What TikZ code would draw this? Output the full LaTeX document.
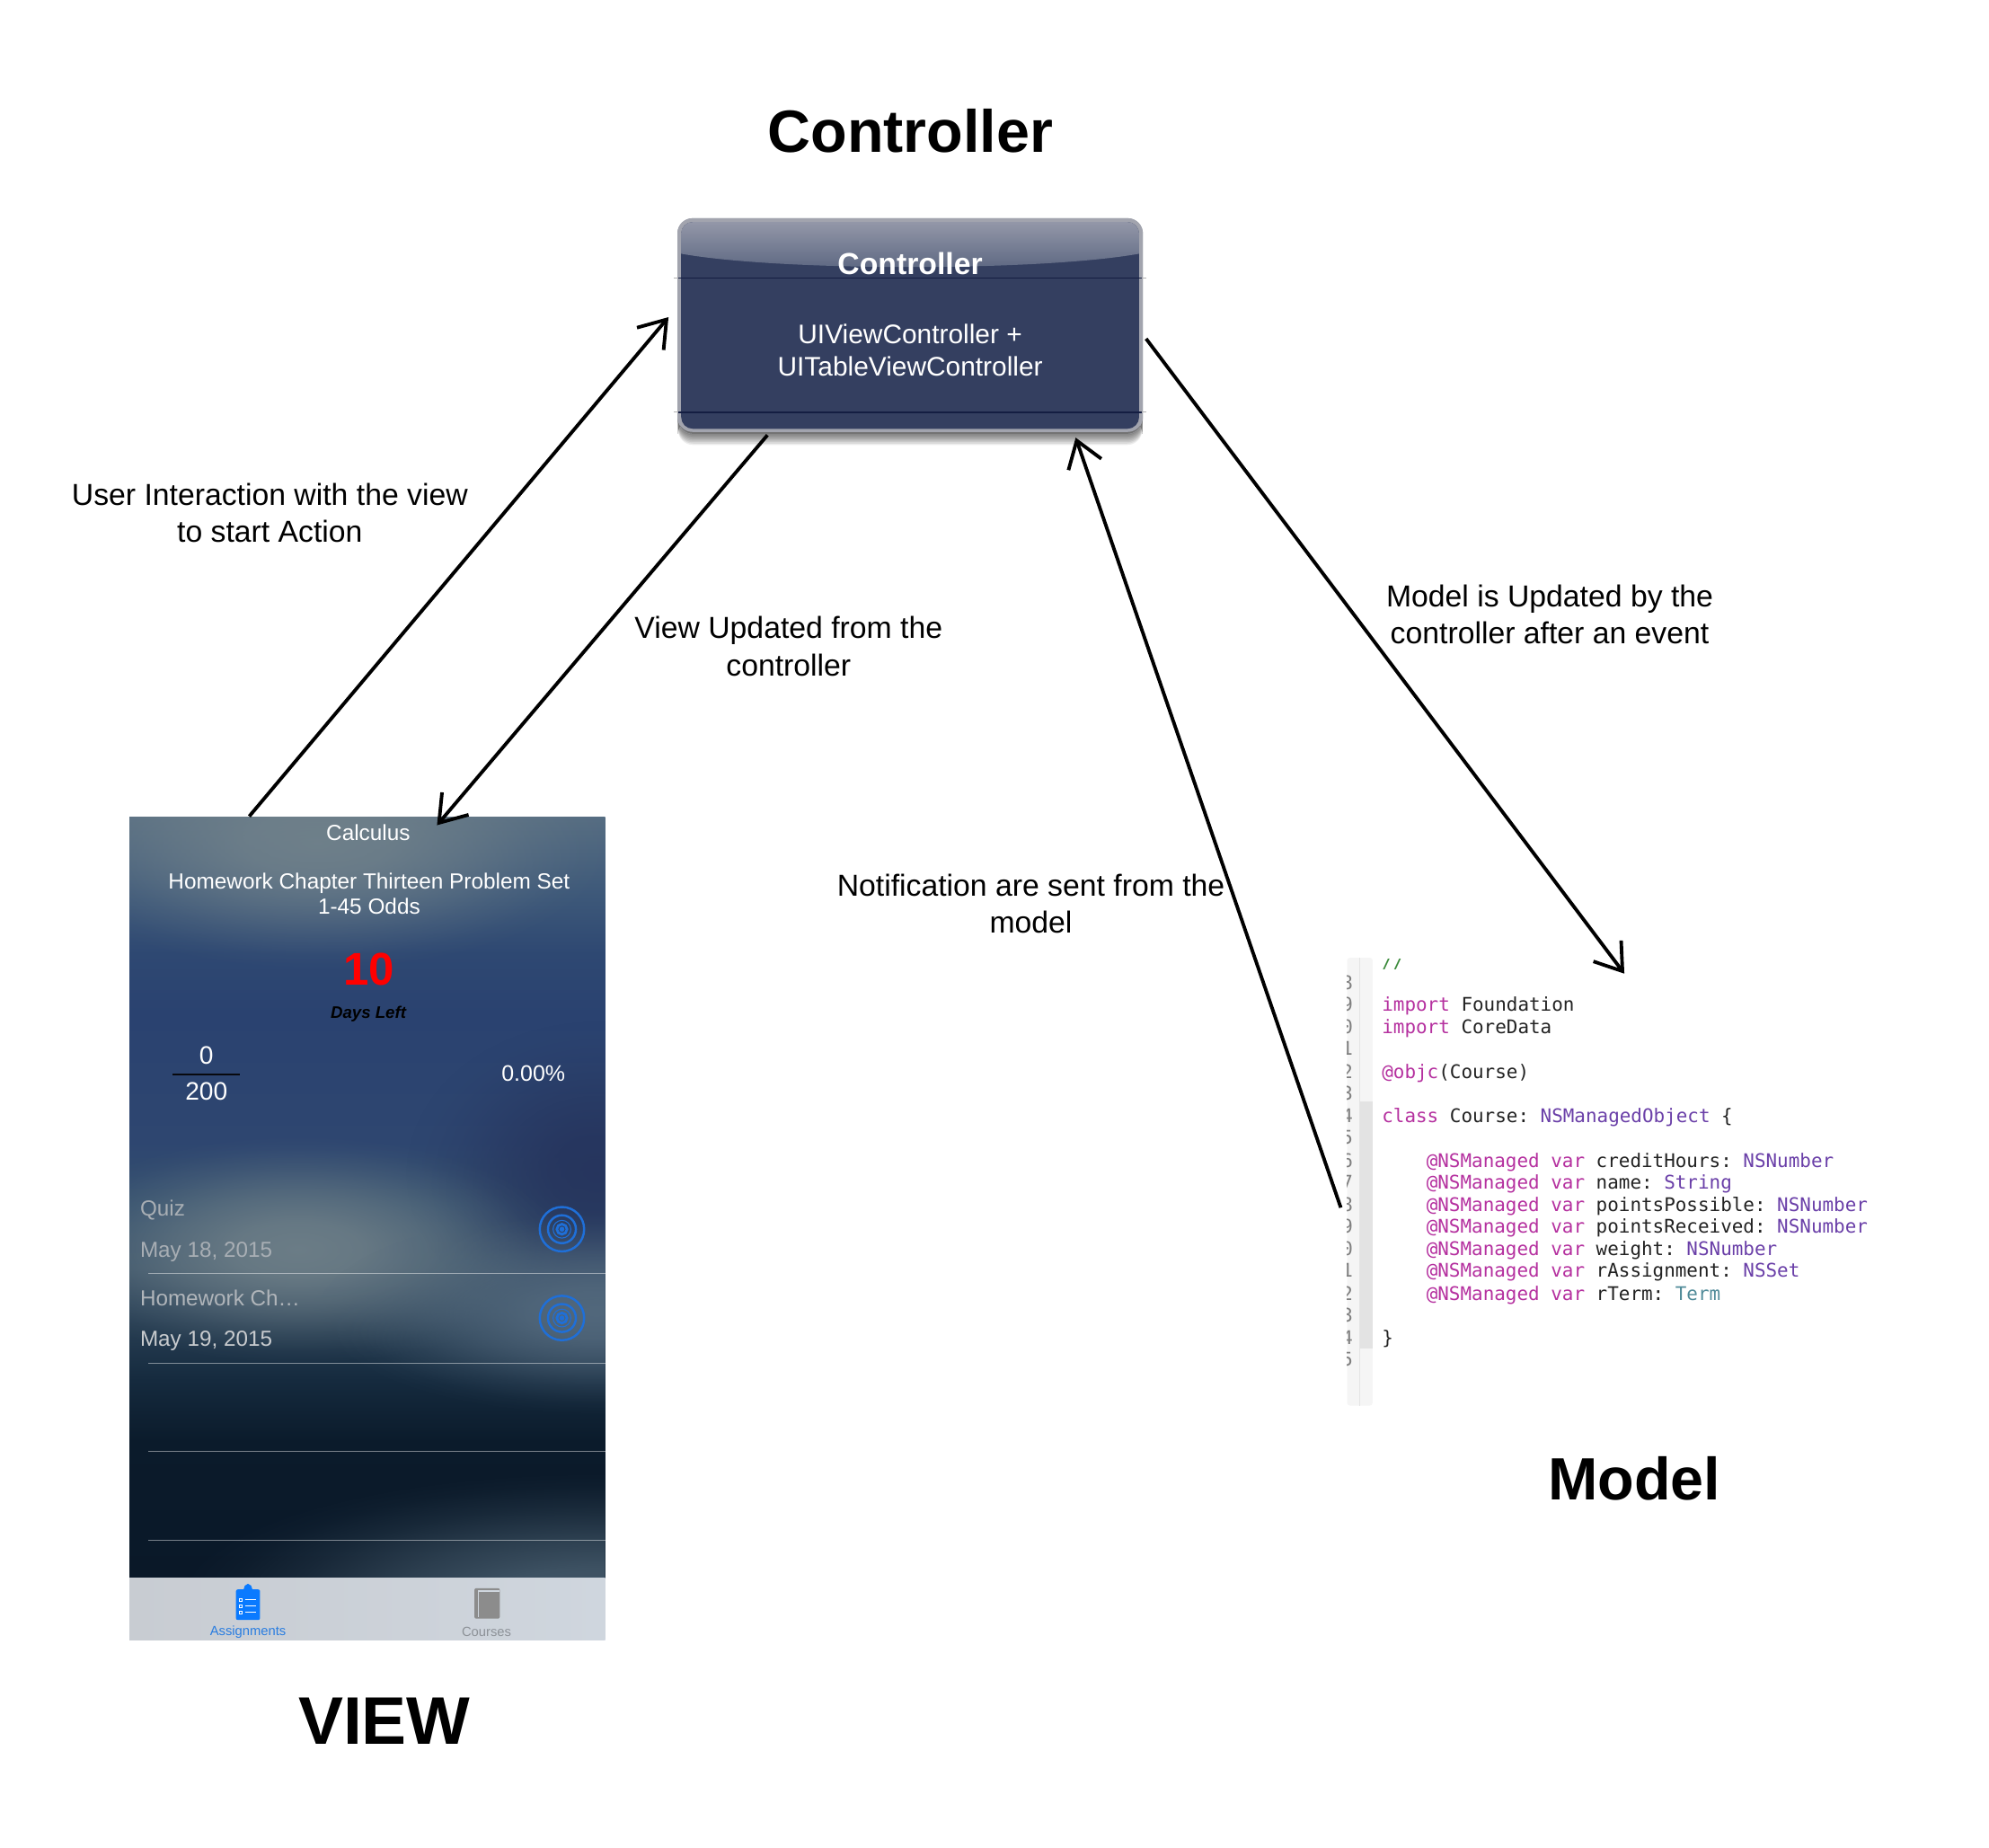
\documentclass[tikz,border=0pt]{standalone}
\usepackage{fontspec}
\setmainfont{Liberation Sans}
\setmonofont{DejaVu Sans Mono}
\usetikzlibrary{arrows.meta,fadings,calc}
\definecolor{navy}{HTML}{343F60}
\definecolor{navyline}{HTML}{141E42}
\definecolor{kw}{HTML}{B5309F}
\definecolor{ty}{HTML}{6A3FA8}
\definecolor{tm}{HTML}{4F8A98}
\definecolor{pl}{HTML}{222222}
\definecolor{cm}{HTML}{3A8A3A}
\definecolor{ringblue}{HTML}{1F6FD8}
\definecolor{tabblue}{HTML}{0A7AFF}
\definecolor{tabgrey}{HTML}{8C8C8C}
\definecolor{tabtext}{HTML}{2A7DE0}
\definecolor{tabgreytext}{HTML}{8D9298}
\definecolor{listA}{HTML}{A8AEB4}
\definecolor{listB}{HTML}{B0B5BA}
\definecolor{listC}{HTML}{C8CBCE}
\definecolor{rimc}{HTML}{A2A4AE}
\definecolor{greyA}{HTML}{74848C}
\definecolor{navyA}{HTML}{25335C}
\definecolor{greyB}{HTML}{6E7F88}
\definecolor{greyC}{HTML}{566C80}
\definecolor{greyD}{HTML}{435869}
\definecolor{greyE}{HTML}{4A5F70}
\definecolor{bgA}{HTML}{0A1828}
\definecolor{bgB}{HTML}{0B1B2B}
\definecolor{bgC}{HTML}{152A3E}
\definecolor{bgD}{HTML}{3A5268}
\definecolor{bgE}{HTML}{34506E}
\definecolor{bgF}{HTML}{2E4670}
\definecolor{bgG}{HTML}{2A4270}
\definecolor{bgH}{HTML}{2E4872}
\definecolor{bgI}{HTML}{3F5A7A}
\definecolor{bgJ}{HTML}{566D82}
\definecolor{glossT}{HTML}{9397A8}
\definecolor{glossB}{HTML}{5A6580}
\definecolor{tabL}{HTML}{C8CCD2}
\definecolor{tabR}{HTML}{CFD6DE}
\pgfdeclareradialshading{softshade}{\pgfpointorigin}{color(0bp)=(white); color(6bp)=(black!10!white); color(12bp)=(black!40!white); color(18bp)=(black!75!white); color(22bp)=(black!93!white); color(25bp)=(black); color(50bp)=(black)}
\pgfdeclarefading{softblob}{\pgfuseshading{softshade}}
\pgfdeclareverticalshading{phonebg}{100bp}{
 color(0bp)=(bgA); color(25bp)=(bgA); color(34bp)=(bgB); color(38bp)=(bgC); color(45.3bp)=(bgD);
 color(49.5bp)=(bgE); color(53.7bp)=(bgF); color(62bp)=(bgG); color(66bp)=(bgH); color(70.3bp)=(bgI); color(75bp)=(bgJ); color(100bp)=(bgJ)}
\pgfdeclareverticalshading{glossy}{100bp}{
 color(0bp)=(glossB); color(25bp)=(glossB); color(75bp)=(glossT); color(100bp)=(glossT)}
\pgfdeclarehorizontalshading{tabbar}{100bp}{
 color(0bp)=(tabL); color(25bp)=(tabL); color(75bp)=(tabR); color(100bp)=(tabR)}
\def\du{0.01412cm}
\newcommand{\softblob}[6]{\fill[#5,fill opacity=#6,path fading=softblob] (#1,#2) ellipse [x radius=#3,y radius=#4];}
\tikzset{
 flow/.style={line width=1.1pt,-{Straight Barb[length=8pt,width=11pt,line width=1.1pt]}},
 notelabel/.style={inner sep=0pt,align=center,font=\fontsize{9.6}{11.7}\selectfont,text=black},
 bigtitle/.style={inner sep=0pt,font=\fontsize{18.9}{22}\selectfont\bfseries,text=black},
 apptext/.style={inner sep=0pt,align=center,text=white,font=\fontsize{6.93}{8.1}\selectfont},
 listtext/.style={inner sep=0pt,anchor=west,font=\fontsize{6.9}{8}\selectfont},
 codeline/.style={inner sep=0pt,anchor=base west,font=\fontsize{5.95}{7}\selectfont\ttfamily,text=pl},
 gutternum/.style={inner sep=0pt,anchor=base east,font=\fontsize{5.95}{7}\selectfont\ttfamily,text=gray},
 sep/.style={line width=0.3pt,draw=white,draw opacity=0.45},
 ring/.style={draw=ringblue},
}
\begin{document}
\begin{tikzpicture}[x=\du,y=-\du]
\useasboundingbox (0,0) rectangle (1568,1456.8);
\fill[white] (0,0) rectangle (1568,1456.8);

% ---------- titles
\node[bigtitle] (titleC) at (717.6,103) {Controller};
\node[bigtitle] (titleM) at (1288.4,1165.5) {Model};
\node[bigtitle,font=\fontsize{21.3}{24}\selectfont\bfseries] (titleV) at (303,1356.5) {VIEW};

% ---------- controller box
\node[minimum width=368*\du,minimum height=171*\du,inner sep=0pt] (ctrl) at (717.5,257) {};
\foreach \g in {8,7,...,1}{
 \fill[black,fill opacity=0.075,rounded corners=0.17cm] (534.5,173) rectangle (900.5,342+\g*1.1);
}
\fill[rimc,rounded corners=0.17cm] (534,172) rectangle (901,342);
\fill[black!55,rounded corners=0.17cm] (534.5,330) rectangle (900.5,342);
\fill[rimc,rounded corners=0.17cm] (534,172) rectangle (901,340.5);
\fill[navy,rounded corners=0.13cm] (537,175) rectangle (898,338);
\begin{scope}
 \clip[rounded corners=0.13cm] (537,175) rectangle (898,338);
 \shade[shading=glossy] (537,175) -- (898,175) -- (898,200) .. controls (820,214) and (615,214) .. (537,200) -- cycle;
\end{scope}
\draw[black!30,line width=0.3pt] (531,219) -- (904,219);
\draw[black!30,line width=0.3pt] (531,325) -- (904,325);
\draw[navyline,line width=0.4pt] (535,219) -- (900,219);
\draw[navyline,line width=0.4pt] (535,325) -- (900,325);
\node[inner sep=0pt,text=white,font=\fontsize{9.6}{11}\selectfont\bfseries] (ctrlT) at (717.5,207.5) {Controller};
\node[inner sep=0pt,text=white,align=center,font=\fontsize{8.5}{10.1}\selectfont] (ctrlB) at (717.5,276) {UIViewController +\\UITableViewController};

% ---------- phone screen
\node[minimum width=375*\du,minimum height=649*\du,inner sep=0pt] (view) at (289.5,968.5) {};
\begin{scope}
 \clip (102,644) rectangle (477,1244);
 \shade[shading=phonebg] (102,644) rectangle (477,1244);
 \softblob{250}{665}{235}{100}{greyA}{0.85}
 \softblob{470}{925}{150}{120}{navyA}{0.9}
 \softblob{235}{985}{210}{90}{greyB}{0.95}
 \softblob{470}{1035}{220}{80}{greyC}{0.9}
 \softblob{470}{1260}{330}{100}{greyD}{1}
\end{scope}
\shade[shading=tabbar] (102,1244) rectangle (477,1293);

\node[apptext] (calc) at (290.3,656.5) {Calculus};
\node[apptext] (hw) at (291,704.5) {Homework Chapter Thirteen Problem Set\\1-45 Odds};
\node[inner sep=0pt,text=red,font=\fontsize{14.5}{16}\selectfont\bfseries] (days) at (290.7,764) {10};
\node[inner sep=0pt,text=black,font=\fontsize{5.3}{7}\selectfont\bfseries\itshape] (dayslbl) at (290.4,799.5) {Days Left};
\node[apptext,font=\fontsize{8}{9}\selectfont] (pts) at (162.7,832) {0};
\draw[black!85!navy,line width=0.5pt] (136,847) -- (189,847);
\node[apptext,font=\fontsize{8}{9}\selectfont] (tot) at (162.7,860) {200};
\node[apptext,font=\fontsize{7.1}{8}\selectfont] (pct) at (420.5,846) {0.00\%};

\node[listtext,text=listA] (q1) at (110,954) {Quiz};
\node[listtext,text=listA] (q2) at (110,987) {May 18, 2015};
\node[listtext,text=listB] (h1) at (110,1023) {Homework Ch…};
\node[listtext,text=listC] (h2) at (110,1057) {May 19, 2015};
\foreach \yy in {1004,1075,1144,1214}{ \draw[sep] (117,\yy) -- (477,\yy); }

\foreach \cy in {969,1039}{
 \draw[ring,line width=0.7pt] (443,\cy) circle [radius=17.5];
 \draw[ring,line width=0.7pt] (443,\cy) circle [radius=11];
 \draw[ring,line width=0.3pt] (443,\cy) circle [radius=7];
 \draw[ring,line width=0.8pt] (443,\cy) circle [radius=4];
 \fill[ringblue] (443,\cy) circle [radius=2];
}

% tab icons
\fill[tabblue,rounded corners=0.02cm] (186,1253) rectangle (205,1277);
\fill[tabblue] (192,1253) -- (193,1250) -- (195.5,1248.5) -- (198,1250) -- (199,1253) -- cycle;
\foreach \iy in {1261,1266,1271}{
 \draw[white,line width=0.2pt] (188.5,\iy-1) rectangle (190.5,\iy+1);
 \draw[white,line width=0.3pt] (193,\iy) -- (202,\iy);
}
\fill[tabgrey,rounded corners=0.02cm] (374,1252) rectangle (394,1276);
\fill[tabR] (377,1253.5) rectangle (394,1255);
\draw[tabR,line width=0.25pt] (377,1255) -- (377,1275);
\node[inner sep=0pt,text=tabtext,font=\fontsize{4.2}{5}\selectfont] (tabA) at (195.5,1286.5) {Assignments};
\node[inner sep=0pt,text=tabgreytext,font=\fontsize{4.2}{5}\selectfont] (tabC) at (383.5,1286.5) {Courses};

% ---------- code panel
\fill[black!4,rounded corners=0.03cm] (1062,755) rectangle (1082,1108);
\fill[black!11] (1072,868) rectangle (1082,1063);
\draw[black!10,line width=0.25pt] (1072,755) -- (1072,1108);
\node[inner sep=0pt,minimum width=420*\du,minimum height=356*\du] (code) at (1272,931) {};
\begin{scope}
 \clip (1062,755) rectangle (1067,1108);
 \node[gutternum] (n1) at (1067,780) {8};
 \node[gutternum] (n2) at (1067,797) {9};
 \node[gutternum] (n3) at (1067,815) {0};
 \node[gutternum] (n4) at (1067,832) {1};
 \node[gutternum] (n5) at (1067,850) {2};
 \node[gutternum] (n6) at (1067,867) {3};
 \node[gutternum] (n7) at (1067,885) {4};
 \node[gutternum] (n8) at (1067,902) {5};
 \node[gutternum] (n9) at (1067,920) {6};
 \node[gutternum] (n10) at (1067,937) {7};
 \node[gutternum] (n11) at (1067,955) {8};
 \node[gutternum] (n12) at (1067,972) {9};
 \node[gutternum] (n13) at (1067,990) {0};
 \node[gutternum] (n14) at (1067,1007) {1};
 \node[gutternum] (n15) at (1067,1025) {2};
 \node[gutternum] (n16) at (1067,1042) {3};
 \node[gutternum] (n17) at (1067,1060) {4};
 \node[gutternum] (n18) at (1067,1077) {5};
\end{scope}
\begin{scope}
 \clip (1085,756) rectangle (1110,775);
 \node[codeline,text=cm] (c0) at (1089,763) {//};
\end{scope}
\node[codeline] (c1) at (1089,797) {\textcolor{kw}{import} Foundation};
\node[codeline] (c2) at (1089,815) {\textcolor{kw}{import} CoreData};
\node[codeline] (c3) at (1089,850) {\textcolor{kw}{@objc}(Course)};
\node[codeline] (c4) at (1089,885) {\textcolor{kw}{class} Course: \textcolor{ty}{NSManagedObject} \{};
\node[codeline] (c5) at (1124,920) {\textcolor{kw}{@NSManaged var} creditHours: \textcolor{ty}{NSNumber}};
\node[codeline] (c6) at (1124,937) {\textcolor{kw}{@NSManaged var} name: \textcolor{ty}{String}};
\node[codeline] (c7) at (1124,955) {\textcolor{kw}{@NSManaged var} pointsPossible: \textcolor{ty}{NSNumber}};
\node[codeline] (c8) at (1124,972) {\textcolor{kw}{@NSManaged var} pointsReceived: \textcolor{ty}{NSNumber}};
\node[codeline] (c9) at (1124,990) {\textcolor{kw}{@NSManaged var} weight: \textcolor{ty}{NSNumber}};
\node[codeline] (c10) at (1124,1007) {\textcolor{kw}{@NSManaged var} rAssignment: \textcolor{ty}{NSSet}};
\node[codeline] (c11) at (1124,1025) {\textcolor{kw}{@NSManaged var} rTerm: \textcolor{tm}{Term}};
\node[codeline] (c12) at (1089,1060) {\}};

% ---------- labels
\node[notelabel] (l1) at (212.7,404.5) {User Interaction with the view\\to start Action};
\node[notelabel] (l2) at (621.7,509.5) {View Updated from the\\controller};
\node[notelabel] (l3) at (812.7,712.5) {Notification are sent from the\\model};
\node[notelabel] (l4) at (1221.7,484.5) {Model is Updated by the\\controller after an event};

% ---------- connectors
\coordinate (aS) at ($(view.north west)+(95,0)$);
\coordinate (aE) at ($(ctrl.west)+(-6,-7)$);
\coordinate (bS) at ($(ctrl.south west)+(72,0)$);
\coordinate (bE) at ($(view.north west)+(243,7)$);
\coordinate (cS) at ($(code.west)+(-4.5,21)$);
\coordinate (cE) at ($(ctrl.south east)+(-54,2)$);
\coordinate (dS) at ($(ctrl.east)+(1.5,10)$);
\coordinate (dE) at ($(code.north west)+(219,15)$);
\draw[flow] (aS) -- (aE);
\draw[flow] (bS) -- (bE);
\draw[flow] (cS) -- (cE);
\draw[flow] (dS) -- (dE);
\end{tikzpicture}
\end{document}
